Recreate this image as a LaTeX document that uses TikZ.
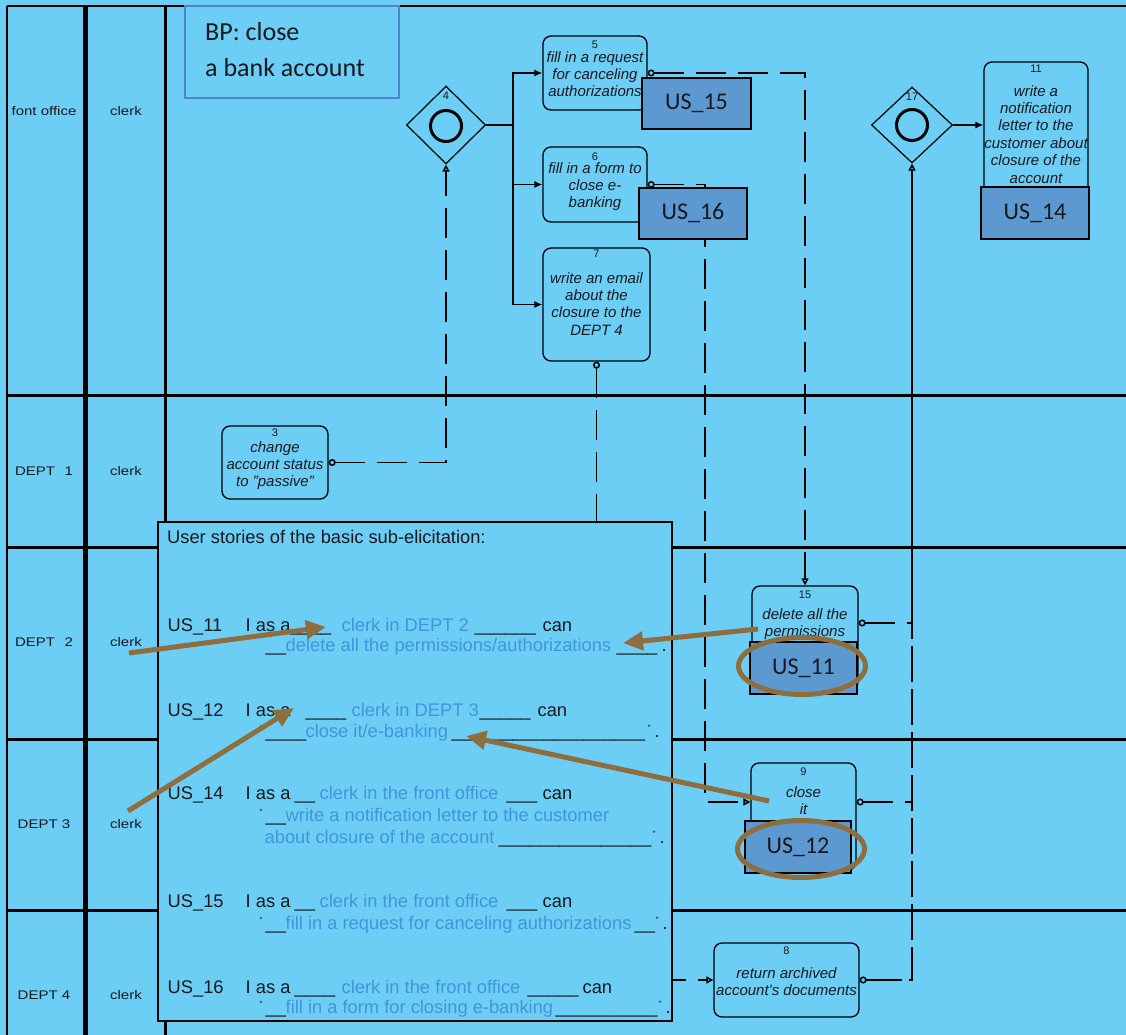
\documentclass[tikz,border=0pt]{standalone}
\usepackage{graphicx}
\usepackage{fontspec}
\setmainfont{Liberation Sans}
\newfontfamily\calib{Carlito}
\usetikzlibrary{shapes.geometric,arrows.meta}
\pgfdeclarelayer{lanes}\pgfdeclarelayer{flows}\pgfdeclarelayer{front}
\pgfsetlayers{lanes,flows,main,front}
\definecolor{bgc}{RGB}{108,205,245}
\definecolor{usfill}{RGB}{93,153,209}
\definecolor{usblue}{RGB}{64,150,218}
\definecolor{brn}{RGB}{142,110,60}
\definecolor{ttl}{RGB}{80,130,205}
\definecolor{ink}{RGB}{25,25,30}
\newcommand\usat[2]{\makebox[0pt][l]{\hspace*{#1pt}#2}}
\newcommand\bl{\color{usblue}}
\newcommand\oq{\raisebox{6pt}{\fontsize{9}{9}\selectfont “}}
\newcommand\cq{\raisebox{6pt}{\fontsize{9}{9}\selectfont ”}}
\newcommand\lanetxt[1]{\scalebox{1.2}[1]{#1}}
\tikzset{
  lane/.style={line width=3pt},
  lanelbl/.style={font=\fontsize{12.5}{14}\selectfont, inner sep=0, text=ink},
  task/.style={draw, rounded corners=8pt, fill=bgc, line width=1.3pt, inner sep=0},
  tnum/.style={font=\fontsize{11}{12}\selectfont, inner sep=0, text=ink},
  ttext/.style={font=\fontsize{15}{17.4}\selectfont\itshape, align=center, inner sep=0, anchor=north, text=ink},
  usbox/.style={draw, fill=usfill, line width=1.8pt, inner sep=0, font=\calib\fontsize{24}{26}\selectfont, text=ink},
  gate/.style={diamond, draw, fill=bgc, line width=1.2pt, inner sep=0},
  gcirc/.style={circle, draw, line width=3pt, minimum size=31pt, inner sep=0},
  seq/.style={line width=1.3pt, -{Latex[length=8pt,width=7pt]}},
  msgline/.style={line width=1.5pt, dash pattern=on 30pt off 12pt},
  ocirc/.style={{Circle[open,fill=bgc,length=7pt,width=7pt]}-},
  otri/.style={-{Triangle[open,fill=bgc,length=7pt,width=7pt]}},
  msg/.style={msgline, {Circle[open,fill=bgc,length=7pt,width=7pt]}-{Triangle[open,fill=bgc,length=7pt,width=7pt]}},
  ustext/.style={anchor=base west, inner sep=0, font=\fontsize{18.3}{20}\selectfont, text=ink},
  brarrow/.style={draw=brn, line width=5pt, -{Triangle[length=20pt,width=18pt]}},
  brell/.style={ellipse, draw=brn, line width=5pt, inner sep=0},
  titletxt/.style={anchor=base west, inner sep=0, font=\calib\fontsize{26}{30}\selectfont, text=ink},
}
\begin{document}
\begin{tikzpicture}[x=1pt,y=-1pt]
\useasboundingbox (0,0) rectangle (1126,1035);
% ---------- lanes ----------
\begin{pgfonlayer}{lanes}
\fill[bgc] (0,0) rectangle (1126,1035);
\draw[line width=1.5pt] (7,6) -- (1126,6);
\draw[line width=1.5pt] (7,6) -- (7,1035);
\draw[line width=5pt] (85,6) -- (85,1035);
\draw[line width=3pt] (165,6) -- (165,1035);
\foreach \y in {395,547,739,910} \draw[lane] (7,\y) -- (1126,\y);
\end{pgfonlayer}
\node[lanelbl] (la0) at (44,111) {\lanetxt{font office}};
\node[lanelbl] (lb0) at (126,111) {\lanetxt{clerk}};
\node[lanelbl] (la1) at (44,471) {\lanetxt{DEPT\hspace{8pt}1}};
\node[lanelbl] (lb1) at (126,471) {\lanetxt{clerk}};
\node[lanelbl] (la2) at (44,642) {\lanetxt{DEPT\hspace{8pt}2}};
\node[lanelbl] (lb2) at (126,642) {\lanetxt{clerk}};
\node[lanelbl] (la3) at (44,824) {\lanetxt{DEPT 3}};
\node[lanelbl] (lb3) at (126,824) {\lanetxt{clerk}};
\node[lanelbl] (la4) at (44,995) {\lanetxt{DEPT 4}};
\node[lanelbl] (lb4) at (126,995) {\lanetxt{clerk}};
% ---------- title ----------
\node[draw=ttl, line width=1.5pt, fill=bgc, minimum width=214, minimum height=92, inner sep=0] (title) at (292,52) {};
\node[titletxt] (title1) at (205,41) {BP: close};
\node[titletxt] (title2) at (205,77) {a bank account};
% ---------- gateways ----------
\node[gate, minimum width=79, minimum height=78] (g4) at (446,125) {};
\node[gcirc] (g4c) at (446,126) {};
\node[tnum] (g4n) at (446,96) {4};
\node[gate, minimum width=81, minimum height=76] (g17) at (912,125) {};
\node[gcirc] (g17c) at (912,125) {};
\node[tnum] (g17n) at (912,97) {17};
% ---------- tasks ----------
\node[task, minimum width=104, minimum height=74] (t5) at (595,73) {};
\node[tnum] (t5n) at (595,45) {5};
\node[ttext] (t5t) at (595,51) {fill in a request\\for canceling\\authorizations};
\node[task, minimum width=104, minimum height=75] (t6) at (595,184.5) {};
\node[tnum] (t6n) at (595,157) {6};
\node[ttext] (t6t) at (595,162) {fill in a form to\\close e-\\banking};
\node[task, minimum width=107, minimum height=113] (t7) at (596.5,304.5) {};
\node[tnum] (t7n) at (596.5,254) {7};
\node[ttext] (t7t) at (596.5,272) {write an email\\about the\\closure to the\\DEPT 4};
\node[task, minimum width=104, minimum height=155] (t11) at (1036,139.5) {};
\node[tnum] (t11n) at (1036,69) {11};
\node[ttext] (t11t) at (1036,85) {write a\\notification\\letter to the\\customer about\\closure of the\\account};
\node[task, minimum width=106, minimum height=73] (t3) at (275,462.5) {};
\node[tnum] (t3n) at (275,433) {3};
\node[ttext] (t3t) at (275,441) {change\\account status\\to "passive"};
\node[task, minimum width=106, minimum height=104] (t15) at (805,638) {};
\node[tnum] (t15n) at (805,595) {15};
\node[ttext] (t15t) at (805,608) {delete all the\\permissions};
\node[task, minimum width=105, minimum height=107] (t9) at (803.5,816.5) {};
\node[tnum] (t9n) at (803.5,772) {9};
\node[ttext] (t9t) at (803.5,786) {close\\it};
\node[task, minimum width=145, minimum height=74] (t8) at (786.5,980) {};
\node[tnum] (t8n) at (786.5,951) {8};
\node[ttext] (t8t) at (786.5,967) {return archived\\account's documents};
% ---------- user story boxes ----------
\node[usbox, minimum width=109, minimum height=51] (us15) at (696.5,103.5) {US\_15};
\node[usbox, minimum width=108, minimum height=51] (us16) at (693,213.5) {US\_16};
\node[usbox, minimum width=108, minimum height=52] (us14) at (1035,213) {US\_14};
\node[usbox, minimum width=107, minimum height=52] (us11) at (803.5,668) {US\_11};
\node[usbox, minimum width=106, minimum height=52] (us12) at (798,847) {US\_12};
% ---------- flows ----------
\coordinate (fork) at (513,125);
\coordinate (c6) at (705,802);
\coordinate (j15) at (912,623);
\coordinate (j9) at (912,802);
\begin{pgfonlayer}{flows}
\draw[seq] (g4.east) -- (fork) |- (t5.west);
\draw[seq] (fork) |- (t6.west);
\draw[seq] (fork) |- (t7.west);
\draw[seq] (g17.east) -- (g17.east -| t11.west);
\draw[msg] (t3.east) -- (t3.east -| g4.south) -- (g4.south);
\draw[msg] (t5.east) -- (t5.east -| t15.north) -- (t15.north);
\draw[msg] (t6.east) -- (t6.east -| c6) -- (c6) -- (t9.west |- c6);
\draw[msg] (t7.south) -- (t7.south |- t8.west) -- (t8.west);
\draw[msgline, ocirc] (t15.east |- j15) -- (j15);
\draw[line width=1.5pt, otri] (j15) -- (g17.south);
\draw[msgline, ocirc] (t9.east |- j9) -- (j9);
\draw[msgline, dash pattern=on 36pt off 7pt, ocirc] (t8.east) -- (t8.east -| j15) -- (j15);
\end{pgfonlayer}
% ---------- user stories panel ----------
\node[draw, fill=bgc, line width=2pt, minimum width=514, minimum height=499, inner sep=0] (stories) at (415,771) {};
\node[ustext] (hdr) at (167,543) {User stories of the basic sub-elicitation:};
\node[ustext] (s11a) at (0,631) {\usat{167}{US\_11}\usat{245}{I as a}\usat{290}{\_\_\_\_}\usat{341}{\bl clerk in DEPT 2}\usat{474}{\_\_\_\_\_\_}\usat{542}{can}};
\node[ustext] (s11b) at (0,651) {\usat{265}{\_\_}\usat{285}{\bl delete all the permissions/authorizations}\usat{616}{\_\_\_\_}\usat{661}{.}};
\node[ustext] (s12a) at (0,716) {\usat{167}{US\_12}\usat{245}{I as a}\usat{305}{\_\_\_\_}\usat{351}{\bl clerk in DEPT 3}\usat{479}{\_\_\_\_\_}\usat{537}{can}};
\node[ustext] (s12b) at (0,737) {\usat{259}{\oq}\usat{265}{\_\_\_\_}\usat{305}{\bl close it/e-banking}\usat{451}{\_\_\_\_\_\_\_\_\_\_\_\_\_\_\_\_\_\_\_}\usat{647}{\cq}\usat{654}{.}};
\node[ustext] (s14a) at (0,799) {\usat{167}{US\_14}\usat{245}{I as a}\usat{294}{\_\_}\usat{319}{\bl clerk in the front office}\usat{506}{\_\_\_}\usat{542}{can}};
\node[ustext] (s14b) at (0,821) {\usat{259}{\oq}\usat{265}{\_\_}\usat{285}{\bl write a notification letter to the customer}};
\node[ustext] (s14c) at (0,843) {\usat{264}{\bl about closure of the account}\usat{498}{\_\_\_\_\_\_\_\_\_\_\_\_\_\_\_}\usat{652}{\cq}\usat{659}{.}};
\node[ustext] (s15a) at (0,907) {\usat{167}{US\_15}\usat{245}{I as a}\usat{294}{\_\_}\usat{319}{\bl clerk in the front office}\usat{506}{\_\_\_}\usat{542}{can}};
\node[ustext] (s15b) at (0,929) {\usat{259}{\oq}\usat{265}{\_\_}\usat{285}{\bl fill in a request for canceling authorizations}\usat{634}{\_\_}\usat{655}{\cq}\usat{662}{.}};
\node[ustext] (s16a) at (0,993) {\usat{167}{US\_16}\usat{245}{I as a}\usat{294}{\_\_\_\_}\usat{341}{\bl clerk in the front office}\usat{527}{\_\_\_\_\_}\usat{582}{can}};
\node[ustext] (s16b) at (0,1013) {\usat{259}{\oq}\usat{265}{\_\_}\usat{285}{\bl fill in a form for closing e-banking}\usat{555}{\_\_\_\_\_\_\_\_\_\_}\usat{658}{\cq}\usat{665}{.}};
% ---------- annotations ----------
\begin{pgfonlayer}{front}
\coordinate (b1s) at (129,653); \coordinate (b1e) at (326,627);
\coordinate (b2s) at (758,629); \coordinate (b2e) at (623,643);
\coordinate (b3s) at (128,811); \coordinate (b3e) at (294,708);
\coordinate (b4s) at (769,801); \coordinate (b4e) at (466,736);
\draw[brarrow] (b1s) -- (b1e);
\draw[brarrow] (b2s) -- (b2e);
\draw[brarrow] (b3s) -- (b3e);
\draw[brarrow] (b4s) -- (b4e);
\node[brell, minimum width=127, minimum height=57] (e11) at (802,666) {};
\node[brell, minimum width=127, minimum height=57] (e12) at (801,849) {};
\end{pgfonlayer}
\end{tikzpicture}
\end{document}
